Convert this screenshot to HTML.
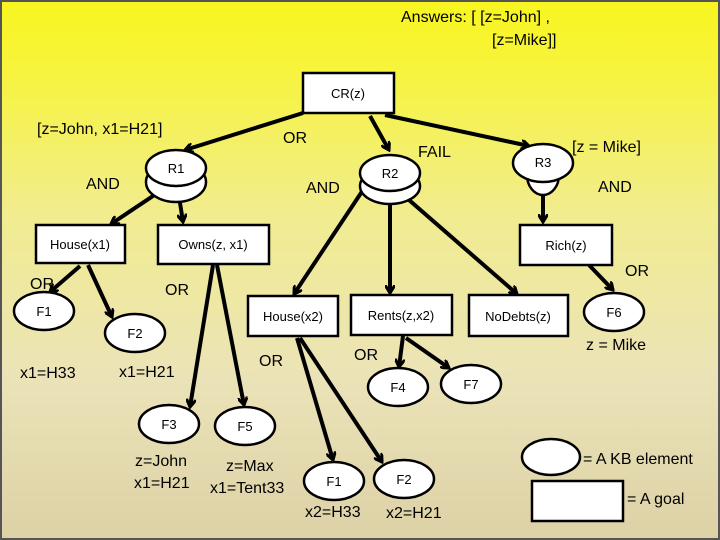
<!DOCTYPE html>
<html><head><style>
html,body{margin:0;padding:0;}
svg{display:block;}
text{font-family:"Liberation Sans",Arial,sans-serif;fill:#000;}
.n{font-size:13px;text-anchor:middle;}
.l{font-size:16px;}
</style></head><body>
<svg width="720" height="540" viewBox="0 0 720 540" xmlns="http://www.w3.org/2000/svg">
<defs>
<linearGradient id="bg" x1="0" y1="0" x2="0" y2="1">
<stop offset="0" stop-color="#f8f520"/>
<stop offset="0.12" stop-color="#f7f43a"/>
<stop offset="0.4" stop-color="#f1ec90"/>
<stop offset="0.7" stop-color="#ebe3b8"/>
<stop offset="1" stop-color="#ddd1a6"/>
</linearGradient>
<marker id="a" markerWidth="10" markerHeight="10" refX="8" refY="5" orient="auto" markerUnits="userSpaceOnUse">
<path d="M0,0 L8,5 L0,10" fill="none" stroke="#000" stroke-width="3"/>
</marker>
</defs>
<rect x="0" y="0" width="720" height="540" fill="url(#bg)"/>
<rect x="1" y="1" width="718" height="538" fill="none" stroke="#555" stroke-width="2"/>

<g stroke="#000" stroke-width="4" fill="none" marker-end="url(#a)">
<line x1="303" y1="113" x2="185" y2="150"/>
<line x1="370" y1="116" x2="389" y2="150"/>
<line x1="385" y1="115" x2="529" y2="146"/>
<line x1="165" y1="188" x2="111" y2="224"/>
<line x1="178" y1="190" x2="183" y2="222"/>
<line x1="80" y1="266" x2="50" y2="292"/>
<line x1="88" y1="265" x2="112" y2="317"/>
<line x1="213" y1="265" x2="190" y2="407"/>
<line x1="217" y1="265" x2="244" y2="405"/>
<line x1="363" y1="190" x2="294" y2="294"/>
<line x1="390" y1="193" x2="390" y2="293"/>
<line x1="401" y1="193" x2="517" y2="294"/>
<line x1="589" y1="265" x2="613" y2="290"/>
<line x1="297" y1="338" x2="333" y2="460"/>
<line x1="300" y1="338" x2="382" y2="462"/>
<line x1="403" y1="336" x2="399" y2="367"/>
<line x1="406" y1="338" x2="449" y2="368"/>
<line x1="543" y1="180" x2="543" y2="222"/>
</g>

<g fill="#fff" stroke="#000" stroke-width="2.5">
<rect x="303" y="73" width="91" height="40"/>
<rect x="36" y="225" width="89" height="38"/>
<rect x="158" y="225" width="111" height="39"/>
<rect x="520" y="225" width="92" height="40"/>
<rect x="248" y="296" width="90" height="40"/>
<rect x="351" y="295" width="101" height="40"/>
<rect x="469" y="295" width="99" height="41"/>
<rect x="532" y="481" width="91" height="40"/>
<!-- R1 -->
<ellipse cx="176" cy="182" rx="30" ry="20"/>
<ellipse cx="176" cy="168" rx="30" ry="18"/>
<!-- R2 -->
<ellipse cx="390" cy="186" rx="30" ry="18"/>
<ellipse cx="390" cy="173" rx="30" ry="18"/>
<!-- R3 -->
<path d="M527,175 A16,20 0 0 0 559,175"/>
<ellipse cx="543" cy="163" rx="30" ry="19"/>
<ellipse cx="44" cy="311" rx="30" ry="19"/>
<ellipse cx="135" cy="333" rx="30" ry="19"/>
<ellipse cx="169" cy="424" rx="30" ry="19"/>
<ellipse cx="245" cy="426" rx="30" ry="19"/>
<ellipse cx="334" cy="481" rx="30" ry="19"/>
<ellipse cx="404" cy="479" rx="30" ry="19"/>
<ellipse cx="398" cy="387" rx="30" ry="19"/>
<ellipse cx="471" cy="384" rx="30" ry="19"/>
<ellipse cx="614" cy="312" rx="30" ry="19"/>
<ellipse cx="551" cy="457" rx="29" ry="18"/>
</g>
<line x1="176" y1="190" x2="176" y2="190" stroke="#000"/>

<g class="n">
<text x="348" y="98" class="n">CR(z)</text>
<text x="80" y="249" class="n">House(x1)</text>
<text x="213" y="249" class="n">Owns(z, x1)</text>
<text x="566" y="250" class="n">Rich(z)</text>
<text x="293" y="321" class="n">House(x2)</text>
<text x="401" y="320" class="n">Rents(z,x2)</text>
<text x="518" y="321" class="n">NoDebts(z)</text>
<text x="176" y="173" class="n">R1</text>
<text x="390" y="178" class="n">R2</text>
<text x="543" y="167" class="n">R3</text>
<text x="44" y="316" class="n">F1</text>
<text x="135" y="338" class="n">F2</text>
<text x="169" y="429" class="n">F3</text>
<text x="245" y="431" class="n">F5</text>
<text x="334" y="486" class="n">F1</text>
<text x="404" y="484" class="n">F2</text>
<text x="398" y="392" class="n">F4</text>
<text x="471" y="389" class="n">F7</text>
<text x="614" y="317" class="n">F6</text>
</g>

<g class="l">
<text x="401" y="22" class="l">Answers:  [ [z=John] ,</text>
<text x="492" y="45" class="l">[z=Mike]]</text>
<text x="37" y="134" class="l">[z=John, x1=H21]</text>
<text x="283" y="143" class="l">OR</text>
<text x="418" y="157" class="l">FAIL</text>
<text x="572" y="152" class="l">[z = Mike]</text>
<text x="86" y="189" class="l">AND</text>
<text x="306" y="193" class="l">AND</text>
<text x="598" y="192" class="l">AND</text>
<text x="30" y="289" class="l">OR</text>
<text x="165" y="295" class="l">OR</text>
<text x="625" y="276" class="l">OR</text>
<text x="259" y="366" class="l">OR</text>
<text x="354" y="360" class="l">OR</text>
<text x="20" y="378" class="l">x1=H33</text>
<text x="119" y="377" class="l">x1=H21</text>
<text x="135" y="466" class="l">z=John</text>
<text x="134" y="488" class="l">x1=H21</text>
<text x="226" y="471" class="l">z=Max</text>
<text x="210" y="493" class="l">x1=Tent33</text>
<text x="305" y="517" class="l">x2=H33</text>
<text x="386" y="518" class="l">x2=H21</text>
<text x="586" y="350" class="l">z = Mike</text>
<text x="583" y="464" class="l">= A KB element</text>
<text x="627" y="504" class="l">= A goal</text>
</g>
</svg>
</body></html>
